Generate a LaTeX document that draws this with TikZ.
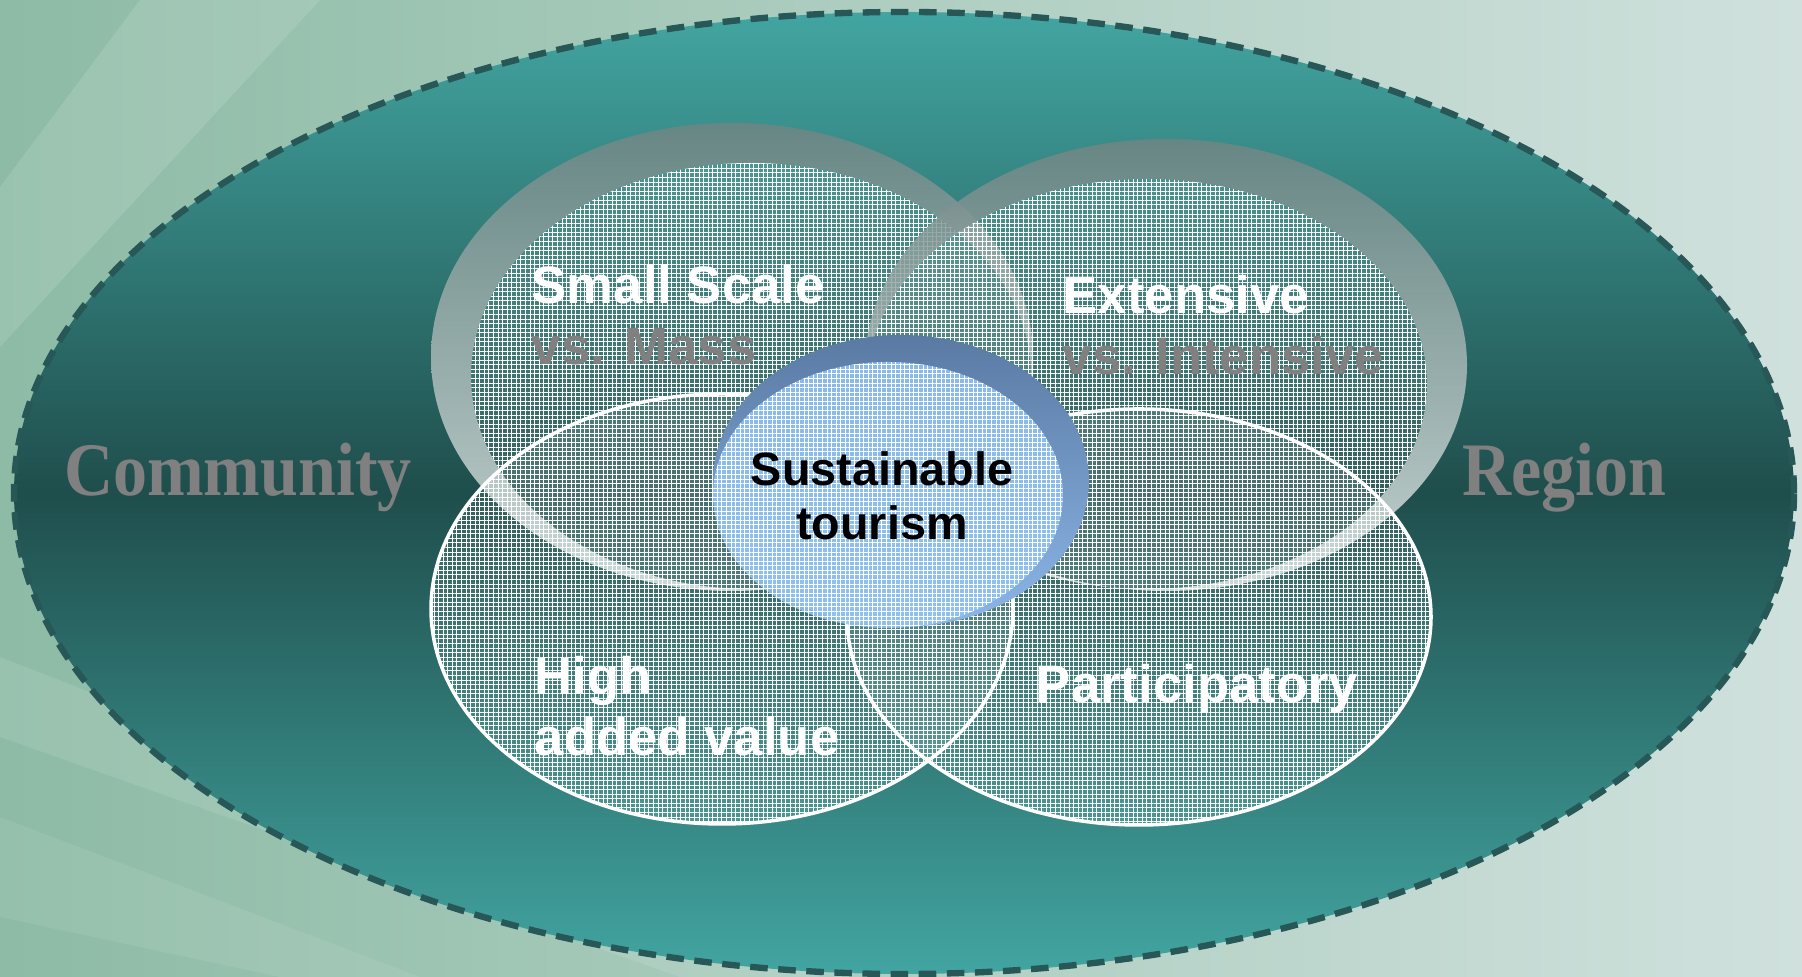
\documentclass[tikz,border=0pt]{standalone}
\usepackage{fontspec}
\setmainfont{Liberation Sans}
\newfontfamily\regionfont{Liberation Serif}
\usetikzlibrary{positioning,shapes.geometric,patterns.meta}

\definecolor{bgleft}{HTML}{8DBBA5}
\definecolor{bgright}{HTML}{D0E1DD}
\definecolor{tealtop}{HTML}{42A5A1}
\definecolor{tealdark}{HTML}{1F4E4C}
\definecolor{tealline}{HTML}{275756}
\definecolor{rimtop}{HTML}{6F8583}
\definecolor{rimlow}{HTML}{E2ECEA}
\definecolor{vsgray}{HTML}{808080}
\definecolor{corerim}{HTML}{5A7AA3}
\definecolor{corelow}{HTML}{8CB6E8}
\definecolor{coreface}{HTML}{8FC2F4}

\tikzset{
  disc/.style 2 args={ellipse, inner sep=0pt, minimum width=#1, minimum height=#2},
  rim/.style={even odd rule, top color=rimtop, bottom color=rimlow, fill opacity=0.85},
  mesh/.style={pattern={Hatch[angle=0, distance=1.3pt, line width=0.25pt]}, pattern color=white},
  face/.style={preaction={fill=white, fill opacity=0.1}, mesh, fill opacity=0.2},
  lens/.style={face, draw=white, line width=1pt},
  tag/.style={text=white, align=left, inner sep=0pt, font=\fontsize{15}{17.6}\selectfont\bfseries},
  side/.style={text=vsgray, inner sep=0pt, xscale=0.9, transform shape, font=\regionfont\fontsize{21.5}{24}\selectfont\bfseries}
}

\begin{document}
\begin{tikzpicture}
  \useasboundingbox (0,0) rectangle (18.02,9.77);
  % backdrop
  \shade[left color=bgleft, right color=bgright] (0,0) rectangle (18.02,9.77);
  \fill[white, opacity=0.12] (1.4,9.77) -- (3.2,9.77) -- (0,6.3) -- (0,7.9) -- cycle;
  \fill[white, opacity=0.10] (0,3.2) -- (0,2.4) -- (6.8,0) -- (8.2,0) -- cycle;
  \fill[white, opacity=0.08] (0,0.6) -- (0,1.6) -- (4.2,0) -- (2.8,0) -- cycle;

  % outer field
  \node[disc={17.80cm}{9.62cm}, top color=tealtop, bottom color=tealtop, middle color=tealdark,
        draw=tealline, line width=1.8pt, dash pattern=on 5pt off 3pt] (field) at (9.04,4.84) {};

  % upper rings
  \shade[rim] (7.32,6.20) ellipse [x radius=3.01, y radius=2.34]
              (7.51,6.01) ellipse [x radius=2.80, y radius=2.13];
  \node[disc={5.60cm}{4.26cm}, face] (scale) at (7.51,6.01) {};
  \shade[rim] (11.66,6.12) ellipse [x radius=3.01, y radius=2.26]
              (11.47,5.93) ellipse [x radius=2.80, y radius=2.05];
  \node[disc={5.60cm}{4.10cm}, face] (extent) at (11.47,5.93) {};

  % lower circles
  \node[disc={5.82cm}{4.30cm}, lens] (value) at (7.22,3.68) {};
  \node[disc={5.84cm}{4.16cm}, lens] (share) at (11.39,3.60) {};

  % core
  \node[disc={3.76cm}{2.92cm}, top color=corerim, bottom color=corelow] (corebase) at (9.01,4.96) {};
  \node[disc={3.50cm}{2.66cm}, fill=coreface, fill opacity=0.88] (core) at (8.88,4.82) {};
  \node[disc={3.50cm}{2.66cm}, mesh, fill opacity=0.12] (coremesh) at (core) {};

  % labels
  \node[tag, anchor=base west] (scaletxt) at (5.31,6.12) {Small Scale\\\textcolor{vsgray}{vs. Mass}};
  \node[tag, anchor=base west] (extenttxt) at (10.62,6.02) {Extensive\\\textcolor{vsgray}{vs. Intensive}};
  \node[tag, anchor=base west] (valuetxt) at (5.34,2.21) {High\\added value};
  \node[tag, anchor=base] (sharetxt) at (11.97,2.74) {Participatory};
  \node[tag, text=black, align=center, anchor=base, font=\fontsize{13.3}{15.6}\selectfont\bfseries]
    (coretxt) at (8.82,4.37) {Sustainable\\tourism};
  \node[side, anchor=base] (community) at (2.38,4.81) {Community};
  \node[side, anchor=base] (region) at (15.64,4.81) {Region};
\end{tikzpicture}
\end{document}
